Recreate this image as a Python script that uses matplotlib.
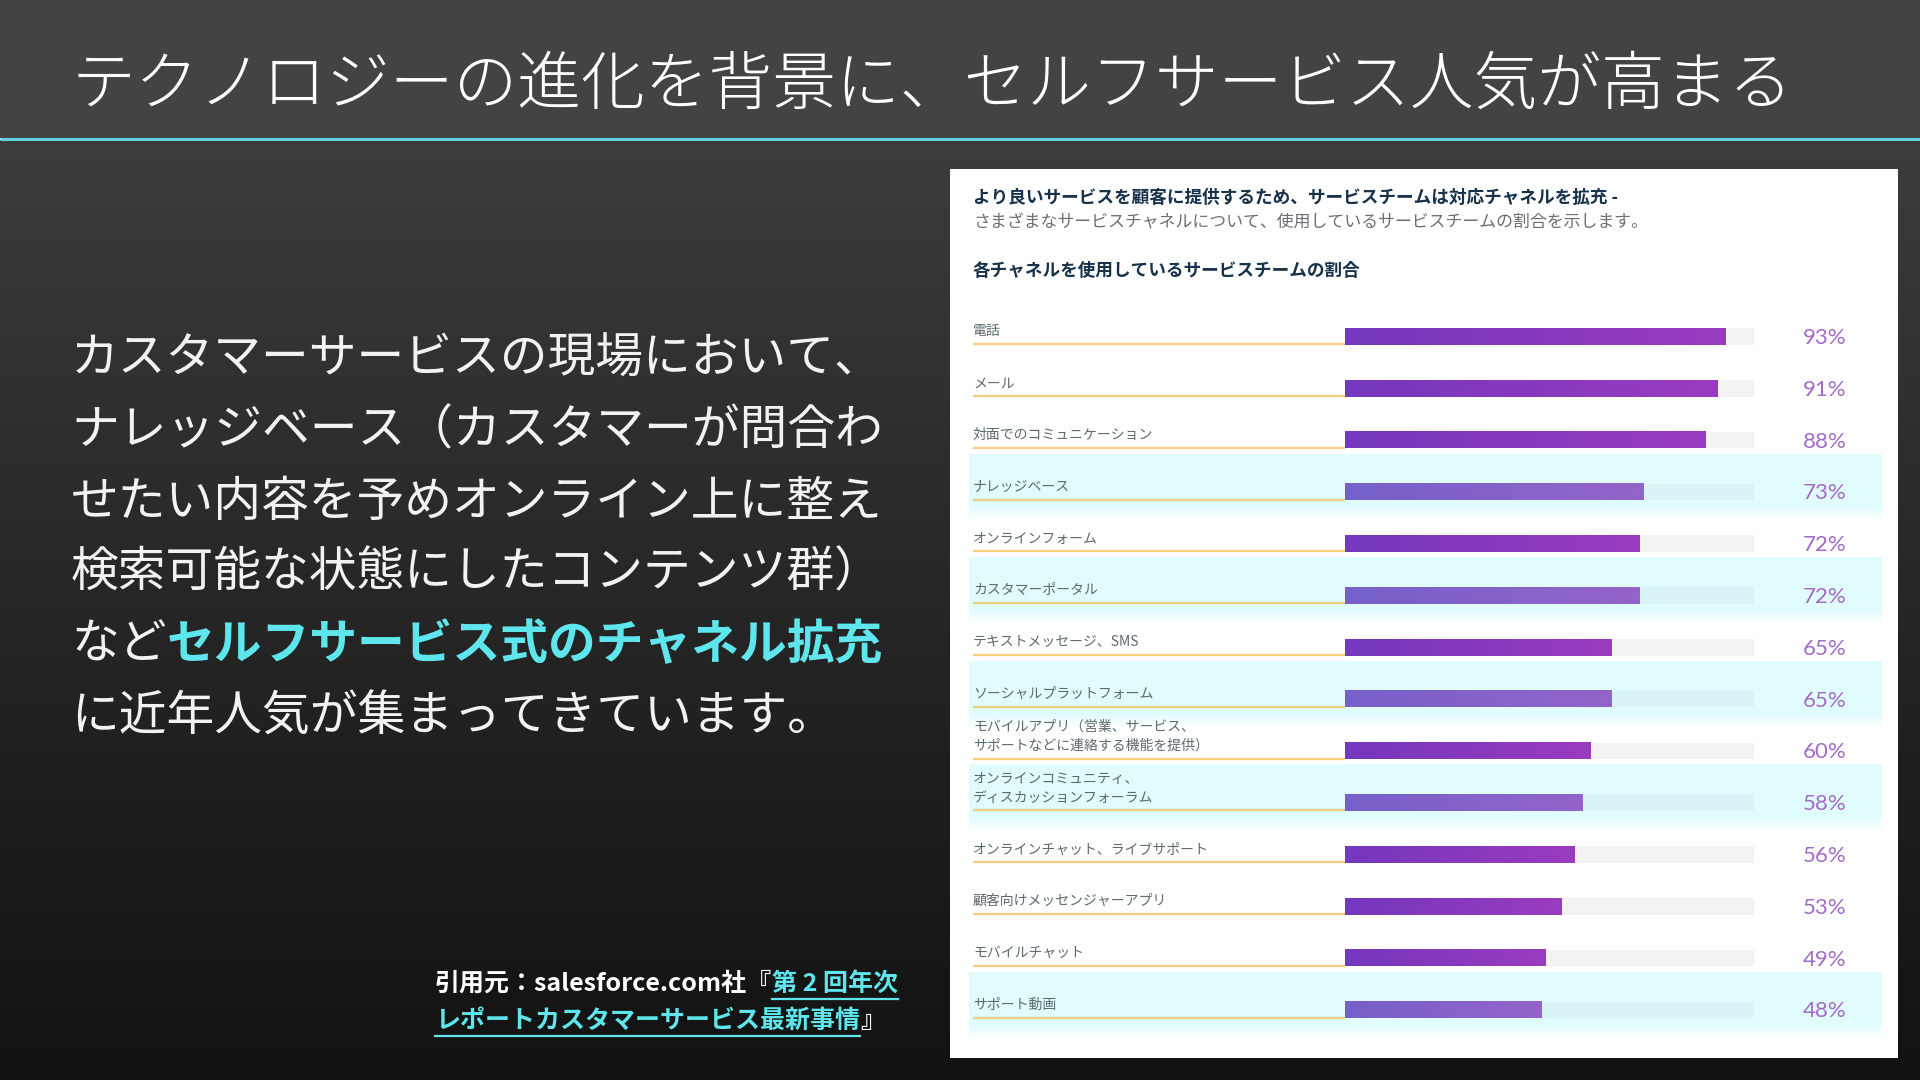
import numpy as np
import matplotlib
matplotlib.use("Agg")
import matplotlib.pyplot as plt
from matplotlib.patches import Rectangle
from matplotlib.lines import Line2D
from matplotlib.colors import LinearSegmentedColormap

plt.rcParams['font.family'] = ['Noto Sans CJK JP', 'DejaVu Sans']

# ---------------- data ----------------
page_title = "テクノロジーの進化を背景に、セルフサービス人気が高まる"
body_lines = [
    "カスタマーサービスの現場において、",
    "ナレッジベース（カスタマーが問合わ",
    "せたい内容を予めオンライン上に整え",
    "検索可能な状態にしたコンテンツ群）",
]
body_line5_pre = "など"
body_line5_hl = "セルフサービス式のチャネル拡充"
body_line6 = "に近年人気が集まってきています。"
cite_pre = "引用元：salesforce.com社『"
cite_link1 = "第 2 回年次"
cite_link2 = "レポートカスタマーサービス最新事情"
cite_post = "』"

chart_title1 = "より良いサービスを顧客に提供するため、サービスチームは対応チャネルを拡充 -"
chart_title2 = "さまざまなサービスチャネルについて、使用しているサービスチームの割合を示します。"
chart_title3 = "各チャネルを使用しているサービスチームの割合"

channels = [
    "電話",
    "メール",
    "対面でのコミュニケーション",
    "ナレッジベース",
    "オンラインフォーム",
    "カスタマーポータル",
    "テキストメッセージ、SMS",
    "ソーシャルプラットフォーム",
    "モバイルアプリ（営業、サービス、\nサポートなどに連絡する機能を提供）",
    "オンラインコミュニティ、\nディスカッションフォーラム",
    "オンラインチャット、ライブサポート",
    "顧客向けメッセンジャーアプリ",
    "モバイルチャット",
    "サポート動画",
]
values = [93, 91, 88, 73, 72, 72, 65, 65, 60, 58, 56, 53, 49, 48]
highlighted = [False, False, False, True, False, True, False, True,
               False, True, False, False, False, True]

# ---------------- figure ----------------
W, H = 1920, 1080
fig = plt.figure(figsize=(19.2, 10.8), dpi=100)

def fx(px):
    return px / W

def fy(py):
    return 1 - py / H

# background
ax_bg = fig.add_axes([0, 0, 1, 1])
ax_bg.set_xlim(0, W)
ax_bg.set_ylim(H, 0)
ax_bg.axis('off')
grad = np.linspace(0, 1, 256).reshape(-1, 1)
bg_cmap = LinearSegmentedColormap.from_list('bg', ['#3c3c3c', '#262626', '#121212'])
ax_bg.imshow(grad, extent=(0, W, H, 140), cmap=bg_cmap, aspect='auto', zorder=0)
ax_bg.add_patch(Rectangle((0, 0), W, 138, facecolor='#434343', edgecolor='none', zorder=1))
ax_bg.plot([0, W], [138.5, 138.5], color='#5fd0dc', lw=2.2, zorder=2, solid_capstyle='butt')

# page title
fig.text(fx(72), fy(86), page_title, color='white', fontsize=45.9, fontweight='light',
         va='center', ha='left')

# body text
body_y = [359, 431, 502, 573, 645, 717]
body_x = fx(71)
bfs = 34.4
for i, line in enumerate(body_lines):
    fig.text(body_x, fy(body_y[i]), line, color='#f2f2f2', fontsize=bfs, va='center', ha='left')
renderer = fig.canvas.get_renderer()
t_pre = fig.text(body_x, fy(body_y[4]), body_line5_pre, color='#f2f2f2', fontsize=bfs,
                 va='center', ha='left')
bb = t_pre.get_window_extent(renderer)
fig.text(bb.x1 / W, fy(body_y[4]), body_line5_hl, color='#5ee6ec', fontsize=bfs,
         fontweight='bold', va='center', ha='left')
fig.text(body_x, fy(body_y[5]), body_line6, color='#f2f2f2', fontsize=bfs, va='center', ha='left')

# citation
cfs = 18
cy1, cy2 = 984, 1021
t1 = fig.text(fx(435), fy(cy1), cite_pre, color='white', fontsize=cfs, fontweight='bold',
              va='center', ha='left')
b1 = t1.get_window_extent(renderer)
t2 = fig.text(b1.x1 / W, fy(cy1), cite_link1, color='#5ee6ec', fontsize=cfs, fontweight='bold',
              va='center', ha='left')
b2 = t2.get_window_extent(renderer)
t3 = fig.text(fx(435), fy(cy2), cite_link2, color='#5ee6ec', fontsize=cfs, fontweight='bold',
              va='center', ha='left')
b3 = t3.get_window_extent(renderer)
fig.text(b3.x1 / W, fy(cy2), cite_post, color='white', fontsize=cfs, fontweight='bold',
         va='center', ha='left')
for (xa, xb, yy) in [(b2.x0, b2.x1, cy1 + 15), (b3.x0, b3.x1, cy2 + 15)]:
    fig.add_artist(Line2D([xa / W, xb / W], [fy(yy), fy(yy)], transform=fig.transFigure,
                          color='#5ee6ec', lw=1.6))

# white panel
fig.add_artist(Rectangle((fx(950), fy(1058)), fx(948), (1058 - 169) / H,
                         transform=fig.transFigure, facecolor='white', edgecolor='none', zorder=1))

fig.text(fx(973), fy(198), chart_title1, color='#17324a', fontsize=12.7, fontweight='bold',
         va='center', ha='left', zorder=3)
fig.text(fx(973), fy(222), chart_title2, color='#6b6f73', fontsize=12.2, va='center', ha='left', zorder=3)
fig.text(fx(973), fy(271), chart_title3, color='#17324a', fontsize=12.7, fontweight='bold',
         va='center', ha='left', zorder=3)

# chart axes
row0, rstep = 336.5, 51.8
top_px, bot_px = 290, 1050
left_px, right_px = 969, 1882
x0_px, x100_px = 1344.6, 1754
ax = fig.add_axes([fx(left_px), fy(bot_px), (right_px - left_px) / W, (bot_px - top_px) / H])
ax.set_zorder(5)
ax.patch.set_alpha(0)
ppu = (x100_px - x0_px) / 100
xlim = ((left_px - x0_px) / ppu, (right_px - x0_px) / ppu)
ylim = ((bot_px - row0) / rstep, (top_px - row0) / rstep)
ax.axis('off')

bar_h = 0.32
label_x = (973 - x0_px) / ppu
pct_x = (1825 - x0_px) / ppu
cm_norm = LinearSegmentedColormap.from_list('n', ['#7437bd', '#9a3cc0'])
cm_hl = LinearSegmentedColormap.from_list('h', ['#7660ca', '#9364c9'])
hgrad = np.linspace(0, 1, 256).reshape(1, -1)

for i, (name, v, hl) in enumerate(zip(channels, values, highlighted)):
    c = i
    if hl:
        ax.axhspan(c - 0.74, c + 0.30, color='#e0fcfd', lw=0, zorder=0)
        for k in range(6):
            ax.axhspan(c + 0.30 + k * 0.04, c + 0.34 + k * 0.04, color='#e0fcfd',
                       alpha=0.8 - k * 0.13, lw=0, zorder=0)
    track_col = '#d9f4f6' if hl else '#f3f3f3'
    ax.barh(c, 100, height=bar_h, left=0, color=track_col, zorder=1)
    ax.imshow(hgrad, extent=(0, v, c + bar_h / 2, c - bar_h / 2), cmap=cm_hl if hl else cm_norm,
              aspect='auto', zorder=2, interpolation='bilinear')
    ax.plot([label_x, 0], [c + bar_h / 2 - 0.01, c + bar_h / 2 - 0.01], color='#f7b948',
            alpha=0.7, lw=1.6, zorder=2, solid_capstyle='butt')
    lines = name.split("\n")
    for k, ln in enumerate(reversed(lines)):
        ax.text(label_x, c - 0.1 - k * 0.36, ln, color='#5d6970', fontsize=10,
                va='center', ha='left', zorder=3)
    ax.text(pct_x, c + 0.03, f"{v}%", color='#a36bc8', fontsize=16, fontweight='normal',
            family=['Lato', 'DejaVu Sans'], va='center', ha='center', zorder=3)

ax.set_xlim(*xlim)
ax.set_ylim(*ylim)

fig.savefig("out.png", dpi=100)
